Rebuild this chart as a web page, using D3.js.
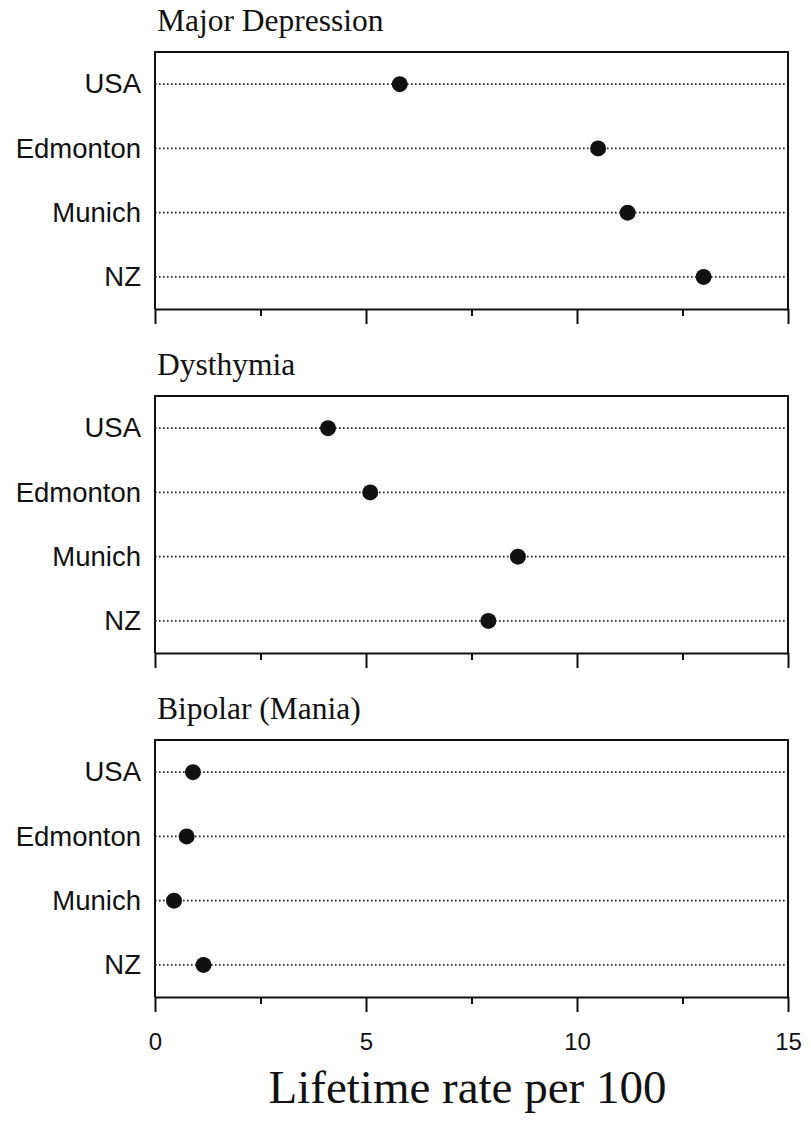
<!DOCTYPE html>
<html>
<head>
<meta charset="utf-8">
<script src="https://cdn.jsdelivr.net/npm/d3@7"></script>
<style>
  body { margin: 0; background: #fff; }
  .panel-title { font-family: "Liberation Serif", "Times New Roman", serif; font-size: 31.5px; fill: #111; }
  .site-axis text { font-family: "Liberation Sans", Arial, sans-serif; font-size: 27.5px; fill: #111; }
  .rate-axis text { font-family: "Liberation Sans", Arial, sans-serif; font-size: 24px; fill: #111; }
  .rate-axis line, .rate-axis path { stroke: #111; stroke-width: 2; }
  .frame { fill: none; stroke: #111; stroke-width: 2; }
  .guide { stroke: #222; stroke-width: 1.8; stroke-dasharray: 1.6 2.4; }
  .dot { fill: #111; }
  .axis-title { font-family: "Liberation Serif", "Times New Roman", serif; font-size: 47px; fill: #111; }
</style>
</head>
<body>
<div id="graph"></div>
<script>
const sites = ["USA", "Edmonton", "Munich", "NZ"];
const panelTitles = ["Major Depression", "Dysthymia", "Bipolar (Mania)"];
const majorDepression = [5.8, 10.5, 11.2, 13.0];
const dysthymia = [4.1, 5.1, 8.6, 7.9];
const bipolar = [0.9, 0.75, 0.45, 1.15];
const majorTicks = [0, 5, 10, 15];
const minorTicks = [2.5, 7.5, 12.5];

const config = {
  width: 811,
  height: 1123,
  left: 155,
  right: 788,
  firstTop: 52,
  panelStep: 344,
  panelHeight: 257,
  titleOffset: 21
};

const svg = d3
  .select("#graph")
  .append("svg")
  .attr("width", config.width)
  .attr("height", config.height);

const x = d3.scaleLinear().domain([0, 15]).range([config.left, config.right]);
const y = d3.scalePoint().domain(sites).range([0, config.panelHeight]).padding(0.5);

function drawPanel(index, values) {
  const top = config.firstTop + index * config.panelStep;
  const bottom = top + config.panelHeight;
  const g = svg.append("g").attr("transform", `translate(0,${top})`);

  g.append("text")
    .attr("class", "panel-title")
    .attr("x", config.left + 2)
    .attr("y", -config.titleOffset)
    .text(panelTitles[index]);

  // dotted guide for every site, behind the dots
  g.selectAll(".guide")
    .data(sites)
    .join("line")
    .attr("class", "guide")
    .attr("x1", x(0))
    .attr("x2", x(15))
    .attr("y1", d => y(d))
    .attr("y2", d => y(d));

  g.append("path")
    .attr("class", "frame")
    .attr("d", `M${x(0)},${config.panelHeight}V0H${x(15)}V${config.panelHeight}`);

  g.append("g")
    .attr("class", "site-axis")
    .attr("transform", `translate(${config.left},0)`)
    .call(d3.axisLeft(y).tickSize(0).tickPadding(14))
    .call(a => a.select(".domain").remove());

  g.selectAll(".dot")
    .data(sites)
    .join("circle")
    .attr("class", "dot")
    .attr("cx", (d, i) => x(values[i]))
    .attr("cy", d => y(d))
    .attr("r", 8);

  const isLast = index === panelTitles.length - 1;

  g.append("g")
    .attr("class", "rate-axis")
    .attr("transform", `translate(0,${config.panelHeight})`)
    .call(
      d3.axisBottom(x)
        .tickValues(majorTicks)
        .tickSize(15)
        .tickSizeOuter(0)
        .tickPadding(21)
        .tickFormat(isLast ? d3.format("d") : () => "")
    );

  g.append("g")
    .attr("class", "rate-axis")
    .attr("transform", `translate(0,${config.panelHeight})`)
    .call(d3.axisBottom(x).tickValues(minorTicks).tickSize(7).tickSizeOuter(0).tickFormat(() => ""))
    .call(a => a.select(".domain").remove());

  return bottom;
}

drawPanel(0, majorDepression);
drawPanel(1, dysthymia);
const lastBottom = drawPanel(2, bipolar);

svg.append("text")
  .attr("class", "axis-title")
  .attr("x", (config.left + config.right) / 2 - 4)
  .attr("y", lastBottom + 106)
  .attr("text-anchor", "middle")
  .text("Lifetime rate per 100");
</script>
</body>
</html>
